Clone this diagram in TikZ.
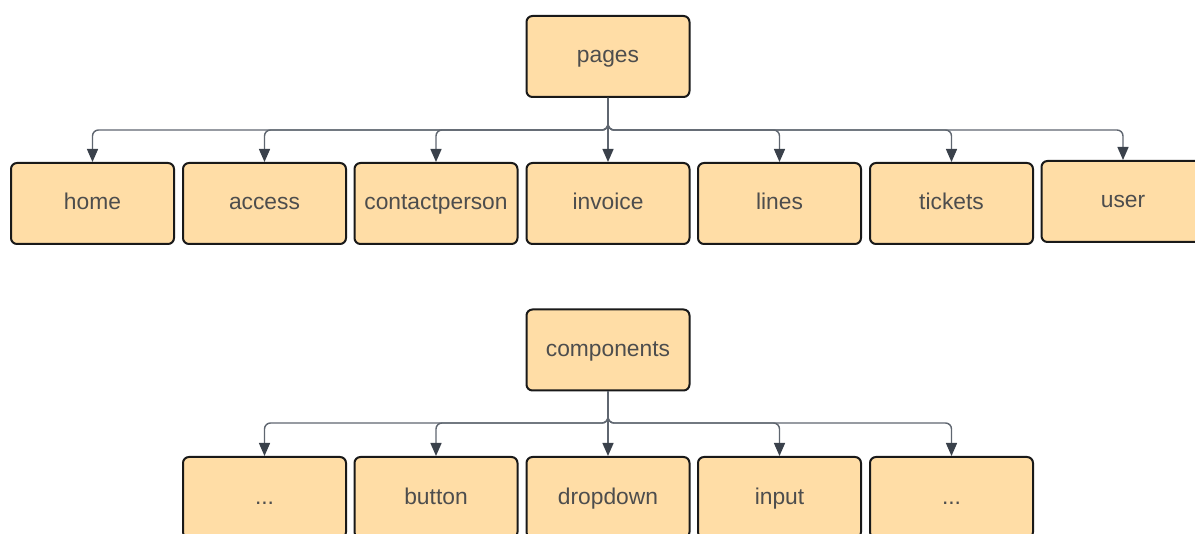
\documentclass[tikz,border=0pt]{standalone}
\usepackage{fontspec}
\setmainfont{Liberation Sans}
\usetikzlibrary{arrows.meta}
\definecolor{boxfill}{HTML}{FFDDA6}
\definecolor{txt}{HTML}{4D4D4D}
\definecolor{conncol}{HTML}{5F6670}
\definecolor{tipcol}{HTML}{3A414B}
\tikzset{
  box/.style={draw=black!90, line width=2pt, fill=boxfill, rounded corners=6pt,
    minimum width=163pt, minimum height=81pt, inner sep=0pt, text=txt,
    text height=18pt, text depth=5pt,
    font=\fontsize{22.8}{27}\selectfont},
  conn/.style={draw=conncol, line width=1.4pt, rounded corners=6pt,
    -{Triangle[length=13pt,width=11pt,fill=tipcol,color=tipcol]}},
}
\begin{document}
\begin{tikzpicture}[x=1pt,y=-1pt]
\useasboundingbox (0,0) rectangle (1195,534);
\begin{scope}
\clip (0,0) rectangle (1195,534);
% top tree
\node[box] (pages) at (608,56.5) {pages};
\node[box] (home) at (92.5,203.5) {home};
\node[box] (access) at (264.5,203.5) {access};
\node[box] (contact) at (436,203.5) {contactperson};
\node[box] (invoice) at (608,203.5) {invoice};
\node[box] (lines) at (779.5,203.5) {lines};
\node[box] (tickets) at (951.5,203.5) {tickets};
\node[box] (user) at (1123,201.5) {user};
\coordinate (j1) at (608,130);
\foreach \n in {home,access,contact,lines,tickets,user}{
  \draw[conn] (pages.south) -- (j1) -| (\n.north);
}
\draw[conn] (pages.south) -- (invoice.north);
% bottom tree
\node[box] (comp) at (608,350) {components};
\node[box] (c1) at (264.5,497.5) {...};
\node[box] (button) at (436,497.5) {button};
\node[box] (dropdown) at (608,497.5) {dropdown};
\node[box] (input) at (779.5,497.5) {input};
\node[box] (c5) at (951.5,497.5) {...};
\coordinate (j2) at (608,423);
\foreach \n in {c1,button,input,c5}{
  \draw[conn] (comp.south) -- (j2) -| (\n.north);
}
\draw[conn] (comp.south) -- (dropdown.north);
\end{scope}
\end{tikzpicture}
\end{document}
